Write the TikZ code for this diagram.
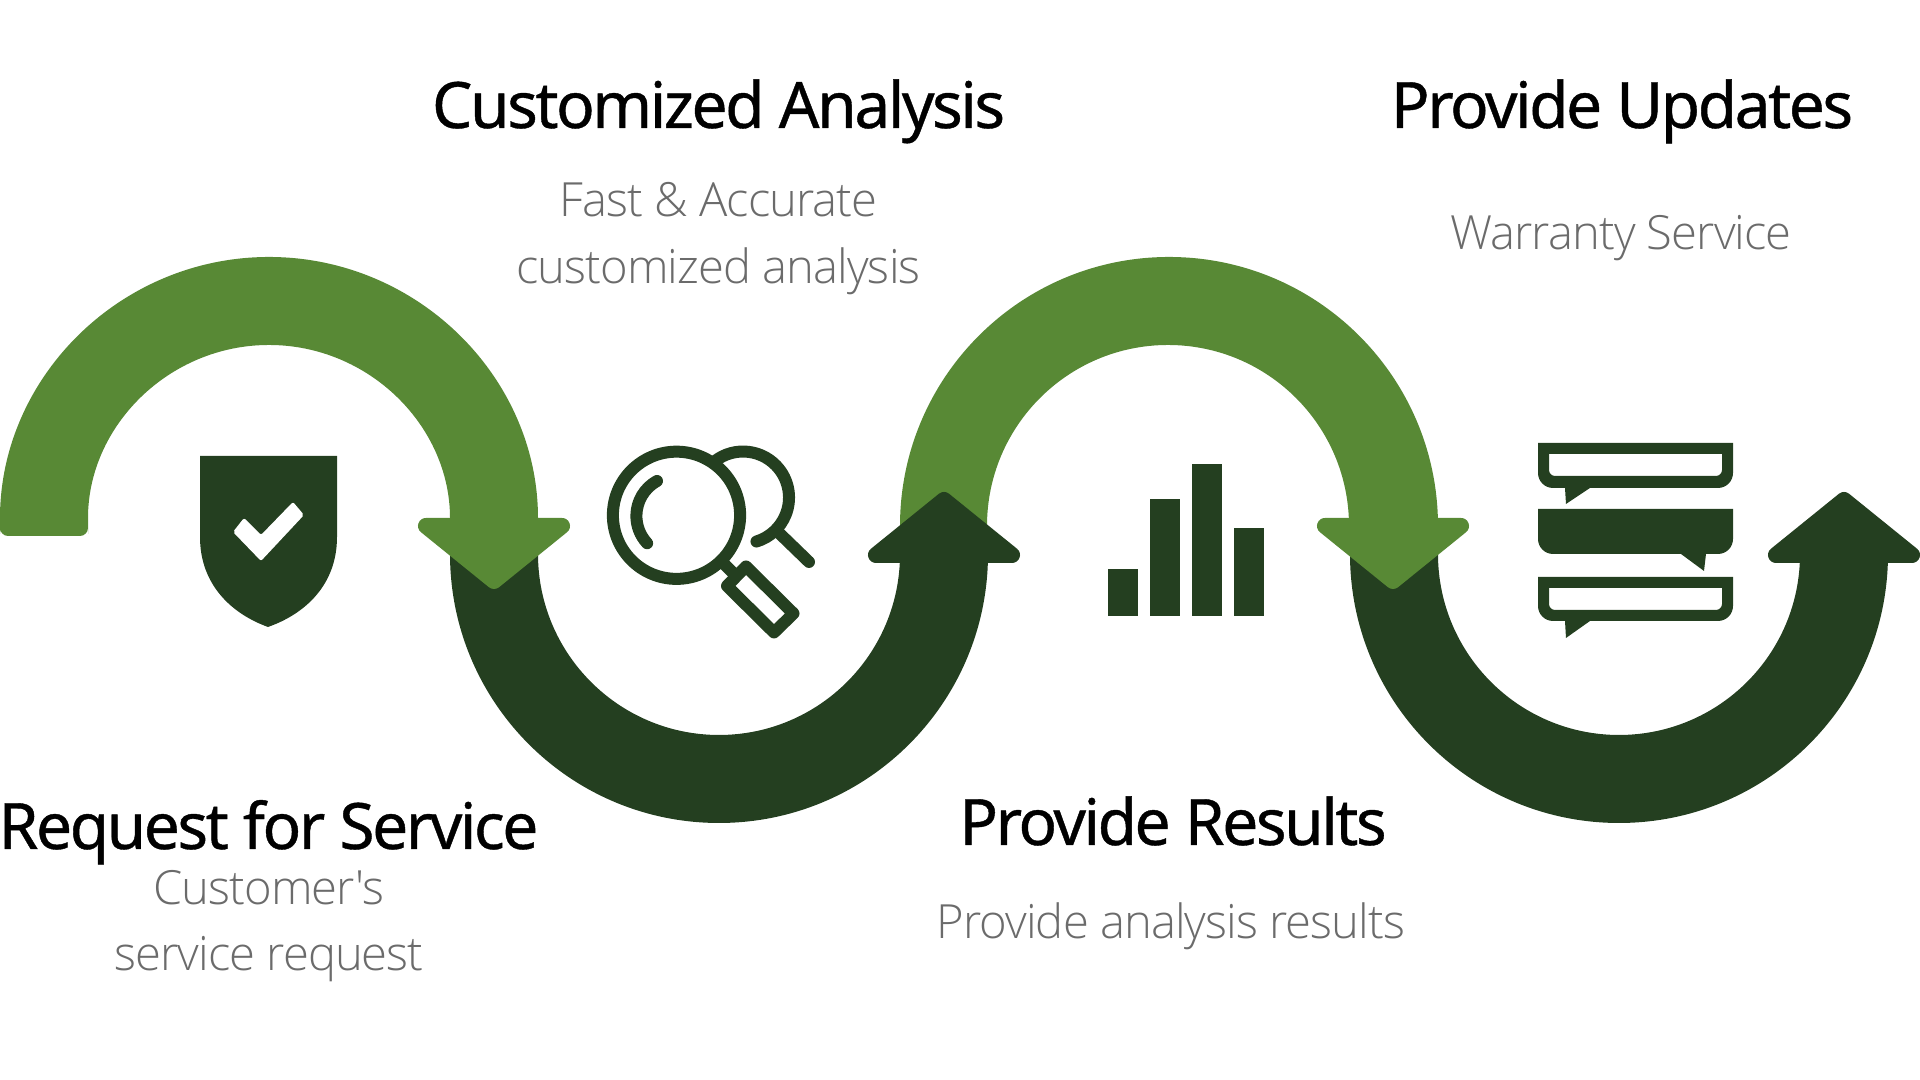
\documentclass[tikz,border=0pt]{standalone}
\usepackage{fontspec}
\setmainfont{Noto Sans}
\newfontfamily\titlefont[FakeBold=0.6,LetterSpace=-3.8]{Noto Sans}
\newfontfamily\thinfont[LetterSpace=-2]{Open Sans Light}
\definecolor{leafgreen}{HTML}{588935}
\definecolor{darkgreen}{HTML}{243F20}
\definecolor{subgray}{HTML}{6B6B6B}
\tikzset{
    heading/.style={anchor=base, text=black, inner sep=0pt, font=\titlefont\fontsize{18.2}{20}\selectfont},
    subtext/.style={anchor=base, text=subgray, inner sep=0pt, font=\thinfont\fontsize{13.4}{15}\selectfont},
    iconline/.style={draw=darkgreen, line width=0.12cm, line cap=round, line join=round},
    arrowhead/.style={line width=0.16cm, line join=round},
}
% Arrow heads, #1 is the centre of the band
\newcommand{\headdown}[1]{\filldraw[leafgreen, arrowhead] (#1-68,554) -- (#1+68,554) -- (#1,499) -- cycle;}
\newcommand{\headup}[1]{\filldraw[darkgreen, arrowhead] (#1-68,525) -- (#1+68,525) -- (#1,580) -- cycle;}
\begin{document}
\begin{tikzpicture}[x=0.01cm, y=0.01cm]
    \useasboundingbox (0,0) rectangle (1920,1080);

    % Dark band under the first head
    \fill[darkgreen] (450,540) -- (450,526) arc[start angle=180, end angle=360, radius=269] -- (900,526) arc[start angle=360, end angle=180, radius=181] -- cycle;

    % First arc
    \fill[leafgreen, rounded corners=0.08cm] (0,544) -- (0,554) arc[start angle=180, end angle=0, radius=269] -- (450,554) arc[start angle=0, end angle=180, radius=181] -- (88,544) -- cycle;
    \headdown{494}

    % Second light arc
    \fill[leafgreen] (900,540) -- (900,554) arc[start angle=180, end angle=0, radius=269] -- (1349,554) arc[start angle=0, end angle=180, radius=181] -- (988,540) -- cycle;
    \headup{944}

    % Last dark band
    \fill[darkgreen] (1350,540) -- (1350,526) arc[start angle=180, end angle=360, radius=269] -- (1800,526) arc[start angle=360, end angle=180, radius=181] -- (1438,540) -- cycle;
    \headdown{1393}
    \headup{1844}

    % Shield
    \fill[darkgreen] (200,624) -- (337,624) -- (337,543) .. controls (337,495) and (305,466) .. (268,453) .. controls (232,466) and (200,495) .. (200,543) -- cycle;
    \fill[white, rounded corners=0.02cm] (233,548) -- (244,562) -- (261,545) -- (293,578) -- (304,565) -- (261,519) -- cycle;

    % Magnifier
    \draw[iconline] (676.5,564.7) circle (63.6);
    \draw[iconline] (657,599) arc[start angle=119, end angle=223, radius=40];
    \draw[iconline] (714.7,618.7) arc[start angle=128, end angle=-73, radius=46];
    \draw[iconline] (778,548) -- (809,518);
    \draw[iconline, line cap=butt] (722,518) -- (735,505);
    \draw[iconline] (746,513.5) -- (793.5,466.5) -- (774,447.5) -- (727,494) -- cycle;

    % Bars
    \foreach \x/\y in {1108/511, 1150/581, 1192/616, 1234/552} {
        \fill[darkgreen] (\x,464) rectangle (\x+30,\y);
    }

    % Speech bubbles
    \fill[darkgreen, even odd rule] (1538,637) -- (1733,637) -- (1733,607) arc[start angle=0, end angle=-90, radius=15] -- (1590,592) -- (1566,576) -- (1565,592) -- (1553,592) arc[start angle=270, end angle=180, radius=15] -- cycle
        (1549,626) -- (1722,626) -- (1722,610) arc[start angle=0, end angle=-90, radius=6] -- (1555,604) arc[start angle=270, end angle=180, radius=6] -- cycle;
    \fill[darkgreen] (1538,571) -- (1733,571) -- (1733,541) arc[start angle=0, end angle=-90, radius=15] -- (1706,526) -- (1704,509) -- (1681,526) -- (1553,526) arc[start angle=270, end angle=180, radius=15] -- cycle;
    \fill[darkgreen, even odd rule] (1538,503) -- (1733,503) -- (1733,474) arc[start angle=0, end angle=-90, radius=15] -- (1590,459) -- (1566,442) -- (1565,459) -- (1553,459) arc[start angle=270, end angle=180, radius=15] -- cycle
        (1549,492) -- (1722,492) -- (1722,476) arc[start angle=0, end angle=-90, radius=6] -- (1555,470) arc[start angle=270, end angle=180, radius=6] -- cycle;

    % Labels
    \node[heading] (analysis) at (718.5,952) {Customized Analysis};
    \node[subtext] (analysisone) at (718.5,863) {Fast \& Accurate};
    \node[subtext] (analysistwo) at (718.5,796) {customized analysis};
    \node[heading] (updates) at (1622,952) {Provide Updates};
    \node[subtext] (warranty) at (1621,830) {Warranty Service};
    \node[heading] (request) at (268.5,231) {Request for Service};
    \node[subtext] (requestone) at (269,175) {Customer's};
    \node[subtext] (requesttwo) at (269,109) {service request};
    \node[heading] (results) at (1173,235) {Provide Results};
    \node[subtext] (resultsone) at (1171,141) {Provide analysis results};
\end{tikzpicture}
\end{document}
